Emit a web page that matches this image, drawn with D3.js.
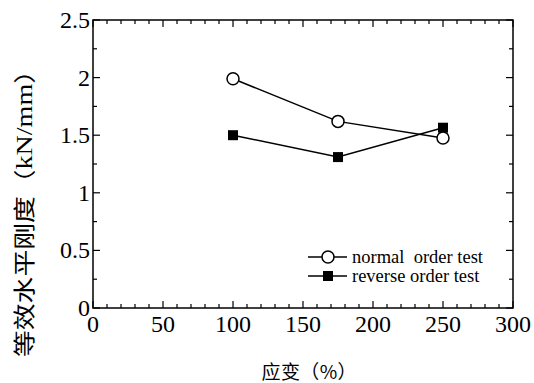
<!DOCTYPE html>
<html>
<head>
<meta charset="utf-8">
<script src="https://cdn.jsdelivr.net/npm/d3@7"></script>
<style>
  html, body { margin: 0; padding: 0; background: #fff; }
  svg { display: block; }
</style>
</head>
<body>
<div id="chart"></div>
<script>
// Equivalent horizontal stiffness vs strain
const strain = [100, 175, 250]
const normalOrder = [1.99, 1.62, 1.475]
const reverseOrder = [1.5, 1.31, 1.565]
const xTicks = [0, 50, 100, 150, 200, 250, 300]
const yTicks = [0, 0.5, 1, 1.5, 2, 2.5]
const seriesNames = ["normal  order test", "reverse order test"]

const W = 534, H = 383
const margin = { top: 20, right: 21, bottom: 75, left: 93 }
const width = W - margin.left - margin.right
const height = H - margin.top - margin.bottom

const svg = d3.select("#chart")
  .append("svg")
  .attr("width", W)
  .attr("height", H)

const g = svg.append("g")
  .attr("transform", `translate(${margin.left},${margin.top})`)

const x = d3.scaleLinear().domain([0, 300]).range([0, width])
const y = d3.scaleLinear().domain([0, 2.5]).range([height, 0])

const serif = "Liberation Serif"
const cjk = "Noto Sans CJK SC"

// minor ticks every 10 on x, 0.25 on y
const minorX = d3.range(0, 301, 10)
const minorY = d3.range(0, 2.51, 0.25)
const isMajorX = v => Math.abs(v % 50) < 1e-6
const isMajorY = v => Math.abs((v * 2) % 1) < 1e-6

// bottom & top x ticks, pointing inward
;[height, 0].forEach((yy, k) => {
  g.append("g").selectAll("line")
    .data(minorX)
    .enter().append("line")
    .attr("x1", d => x(d)).attr("x2", d => x(d))
    .attr("y1", yy)
    .attr("y2", d => yy + (k === 0 ? -1 : 1) * (isMajorX(d) ? 7 : 4))
    .attr("stroke", "#000").attr("stroke-width", 1.2)
})
// left & right y ticks
;[0, width].forEach((xx, k) => {
  g.append("g").selectAll("line")
    .data(minorY)
    .enter().append("line")
    .attr("y1", d => y(d)).attr("y2", d => y(d))
    .attr("x1", xx)
    .attr("x2", d => xx + (k === 0 ? 1 : -1) * (isMajorY(d) ? 7 : 4))
    .attr("stroke", "#000").attr("stroke-width", 1.2)
})

// Frame
g.append("rect")
  .attr("x", 0).attr("y", 0)
  .attr("width", width).attr("height", height)
  .attr("fill", "none")
  .attr("stroke", "#000")
  .attr("stroke-width", 1.5)

// Tick labels
g.append("g").selectAll("text")
  .data(xTicks)
  .enter().append("text")
  .attr("x", d => x(d))
  .attr("y", height + 24)
  .attr("text-anchor", "middle")
  .attr("font-family", serif)
  .attr("font-size", 24)
  .text(d => d)

g.append("g").selectAll("text")
  .data(yTicks)
  .enter().append("text")
  .attr("x", -3)
  .attr("y", d => y(d) + 8)
  .attr("text-anchor", "end")
  .attr("font-family", serif)
  .attr("font-size", 24)
  .text(d => d)

// Axis titles
const yTitle = svg.append("text")
  .attr("transform", "translate(32,207) rotate(-90)")
  .attr("text-anchor", "middle")
  .attr("font-size", 22)
  .attr("textLength", 300)
  .attr("lengthAdjust", "spacingAndGlyphs")
yTitle.append("tspan").attr("font-family", cjk).text("等效水平刚度")
yTitle.append("tspan").attr("font-family", cjk).text("（")
yTitle.append("tspan").attr("font-family", serif).attr("font-size", 23).text("kN/mm")
yTitle.append("tspan").attr("font-family", cjk).text("）")

svg.append("text")
  .attr("x", 309)
  .attr("y", 379)
  .attr("text-anchor", "middle")
  .attr("font-family", cjk)
  .attr("font-size", 19)
  .attr("textLength", 95)
  .attr("lengthAdjust", "spacing")
  .text("应变（%）")

// Lines
const line = d3.line()
  .x(d => x(d[0]))
  .y(d => y(d[1]))

const normalPts = strain.map((s, i) => [s, normalOrder[i]])
const reversePts = strain.map((s, i) => [s, reverseOrder[i]])

g.append("path").datum(reversePts)
  .attr("d", line).attr("fill", "none")
  .attr("stroke", "#000").attr("stroke-width", 1.5)
g.append("path").datum(normalPts)
  .attr("d", line).attr("fill", "none")
  .attr("stroke", "#000").attr("stroke-width", 1.5)

g.selectAll(".sq").data(reversePts).enter().append("rect")
  .attr("class", "sq")
  .attr("x", d => x(d[0]) - 5).attr("y", d => y(d[1]) - 5)
  .attr("width", 10).attr("height", 10)
  .attr("fill", "#000")

g.selectAll(".ci").data(normalPts).enter().append("circle")
  .attr("class", "ci")
  .attr("cx", d => x(d[0])).attr("cy", d => y(d[1]))
  .attr("r", 6)
  .attr("fill", "#fff").attr("stroke", "#000").attr("stroke-width", 1.5)

// Legend
const legend = svg.append("g").attr("transform", "translate(308,257)")
seriesNames.forEach((name, i) => {
  const row = legend.append("g").attr("transform", `translate(0,${i * 19})`)
  row.append("line")
    .attr("x1", 0).attr("x2", 39).attr("y1", 0).attr("y2", 0)
    .attr("stroke", "#000").attr("stroke-width", 1.5)
  if (i === 0) {
    row.append("circle").attr("cx", 20).attr("cy", 0).attr("r", 6)
      .attr("fill", "#fff").attr("stroke", "#000").attr("stroke-width", 1.5)
  } else {
    row.append("rect").attr("x", 15).attr("y", -5)
      .attr("width", 10).attr("height", 10).attr("fill", "#000")
  }
  row.append("text")
    .attr("x", 44).attr("y", 6)
    .attr("font-family", serif)
    .attr("font-size", 18.5)
    .attr("xml:space", "preserve")
    .style("white-space", "pre")
    .text(name)
})
</script>
</body>
</html>
